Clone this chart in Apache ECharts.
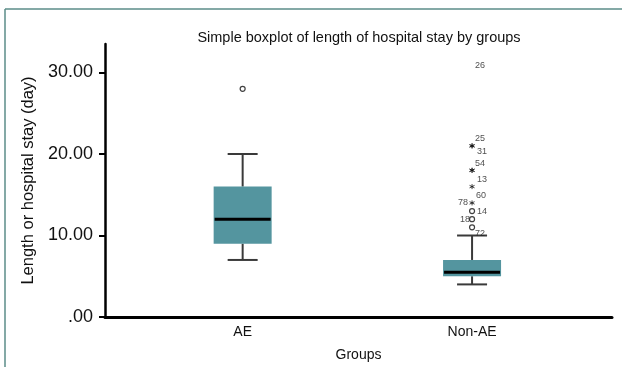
<!DOCTYPE html>
<html>
<head>
<meta charset="utf-8">
<script src="https://cdn.jsdelivr.net/npm/echarts@6/dist/echarts.min.js"></script>
<style>
  html, body { margin: 0; padding: 0; background: #fff; }
  #chart { width: 622px; height: 367px; }
</style>
</head>
<body>
<div id="chart"></div>
<script>
'use strict';
// groups on the x axis, placed at 1 and 2
var categories = ['AE', 'Non-AE'];
// [min, Q1, median, Q3, max] per group
var boxStats = [
    [7, 9, 12, 16, 20],
    [4, 5, 5.5, 7, 10]
];
var yTicks = [0, 10, 20, 30];

// AE outlier
var aeOutlierValues = [28];
// Non-AE outliers: value, case number, kind (o = outlier, * = extreme, - = label only)
var nonAeOutlierValues = [31, 21, 21, 18, 18, 16, 14, 13, 12, 11];
var nonAeOutlierCases = ['26', '25', '31', '54', '13', '60', '78', '14', '18', '72'];
var nonAeOutlierKinds = ['-', '*', '*', '*', '*', '*', '*', 'o', 'o', 'o'];

// where each case label sits relative to its marker (px)
var labelOffsets = {
    '26': [8, 1], '25': [8, -7], '31': [10, 6], '54': [8, -7], '13': [10, 9],
    '60': [9, 9], '78': [-9, 0], '14': [10, 0], '18': [-7, 0], '72': [8, 6]
};

var font = '"Liberation Sans", Arial, sans-serif';
var starPath = 'path://M5 0L5 10M0.7 2.5L9.3 7.5M0.7 7.5L9.3 2.5';

function pointsOf(kind) {
    var out = [];
    nonAeOutlierValues.forEach(function (v, i) {
        if (nonAeOutlierKinds[i] !== kind) return;
        var c = nonAeOutlierCases[i];
        out.push({
            value: [2, v],
            name: c,
            label: { offset: labelOffsets[c] }
        });
    });
    return out;
}

var caseLabel = {
    show: true,
    position: 'inside',
    formatter: '{b}',
    color: '#222',
    fontSize: 9,
    fontFamily: font
};

var myChart = echarts.init(document.getElementById('chart'), null, { renderer: 'canvas' });
var option = {
    animation: false,
    backgroundColor: '#fff',
    title: {
        text: 'Simple boxplot of length of hospital stay by groups',
        left: 354,
        top: 25,
        textAlign: 'center',
        textStyle: { fontSize: 14.5, fontWeight: 'normal', color: '#111', fontFamily: font }
    },
    graphic: [
        { type: 'line', shape: { x1: 5, y1: 9, x2: 622, y2: 9 }, style: { stroke: '#5b8c88', lineWidth: 1.5 } },
        { type: 'line', shape: { x1: 5, y1: 9, x2: 5, y2: 367 }, style: { stroke: '#5b8c88', lineWidth: 1.5 } }
    ],
    grid: { left: 105, right: 10, top: 44, bottom: 47 },
    xAxis: {
        type: 'value',
        min: 0.4,
        max: 2.61,
        name: 'Groups',
        nameLocation: 'middle',
        nameGap: 31,
        nameTextStyle: { fontSize: 14, color: '#111', fontFamily: font },
        axisLine: { show: true, lineStyle: { color: '#000', width: 3 } },
        axisTick: { show: false },
        splitLine: { show: false },
        axisLabel: {
            customValues: [1, 2],
            formatter: function (v) { return categories[Math.round(v) - 1] || ''; },
            fontSize: 14,
            color: '#111',
            margin: 8,
            fontFamily: font
        }
    },
    yAxis: {
        type: 'value',
        min: 0,
        max: 33.5,
        name: 'Length or hospital stay (day)',
        nameLocation: 'middle',
        nameGap: 66,
        nameTextStyle: { fontSize: 16.5, color: '#111', fontFamily: font },
        axisLine: { show: true, lineStyle: { color: '#000', width: 2.5 } },
        axisTick: { show: true, length: 6, customValues: yTicks, lineStyle: { color: '#000', width: 2 } },
        splitLine: { show: false },
        axisLabel: {
            customValues: yTicks,
            formatter: function (v) { return v === 0 ? '.00' : v.toFixed(2); },
            fontSize: 18,
            color: '#111',
            margin: 12,
            fontFamily: font
        }
    },
    series: [
        {
            type: 'custom',
            data: boxStats.map(function (s, i) { return [i + 1].concat(s); }),
            encode: { x: 0, y: [1, 2, 3, 4, 5] },
            renderItem: function (params, api) {
                var x = api.value(0);
                var pMin = api.coord([x, api.value(1)]);
                var pQ1 = api.coord([x, api.value(2)]);
                var pMed = api.coord([x, api.value(3)]);
                var pQ3 = api.coord([x, api.value(4)]);
                var pMax = api.coord([x, api.value(5)]);
                var cx = pMin[0], hw = 29, cap = 15;
                var whisker = { stroke: '#3a3a3a', lineWidth: 2 };
                return {
                    type: 'group',
                    children: [
                        { type: 'line', shape: { x1: cx, y1: pQ3[1], x2: cx, y2: pMax[1] }, style: whisker },
                        { type: 'line', shape: { x1: cx, y1: pQ1[1], x2: cx, y2: pMin[1] }, style: whisker },
                        { type: 'line', shape: { x1: cx - cap, y1: pMax[1], x2: cx + cap, y2: pMax[1] }, style: whisker },
                        { type: 'line', shape: { x1: cx - cap, y1: pMin[1], x2: cx + cap, y2: pMin[1] }, style: whisker },
                        { type: 'rect', shape: { x: cx - hw, y: pQ3[1], width: hw * 2, height: pQ1[1] - pQ3[1] },
                          style: { fill: '#54959f', stroke: null } },
                        { type: 'line', shape: { x1: cx - hw + 1, y1: pMed[1], x2: cx + hw - 1, y2: pMed[1] },
                          style: { stroke: '#000', lineWidth: 3 } }
                    ]
                };
            }
        },
        {
            type: 'scatter',
            symbol: 'circle',
            symbolSize: 5,
            itemStyle: { color: '#fff', borderColor: '#111', borderWidth: 1.2 },
            data: aeOutlierValues.map(function (v) { return [1, v]; })
        },
        {
            type: 'scatter',
            symbol: 'circle',
            symbolSize: 5,
            itemStyle: { color: '#fff', borderColor: '#111', borderWidth: 1.2 },
            label: caseLabel,
            data: pointsOf('o')
        },
        {
            type: 'scatter',
            symbol: starPath,
            symbolSize: 5,
            itemStyle: { color: 'none', borderColor: '#111', borderWidth: 1 },
            label: caseLabel,
            data: pointsOf('*')
        },
        {
            type: 'scatter',
            symbolSize: 4,
            itemStyle: { color: 'rgba(0,0,0,0)', borderWidth: 0 },
            label: caseLabel,
            data: pointsOf('-')
        }
    ]
};
myChart.setOption(option);
</script>
</body>
</html>
